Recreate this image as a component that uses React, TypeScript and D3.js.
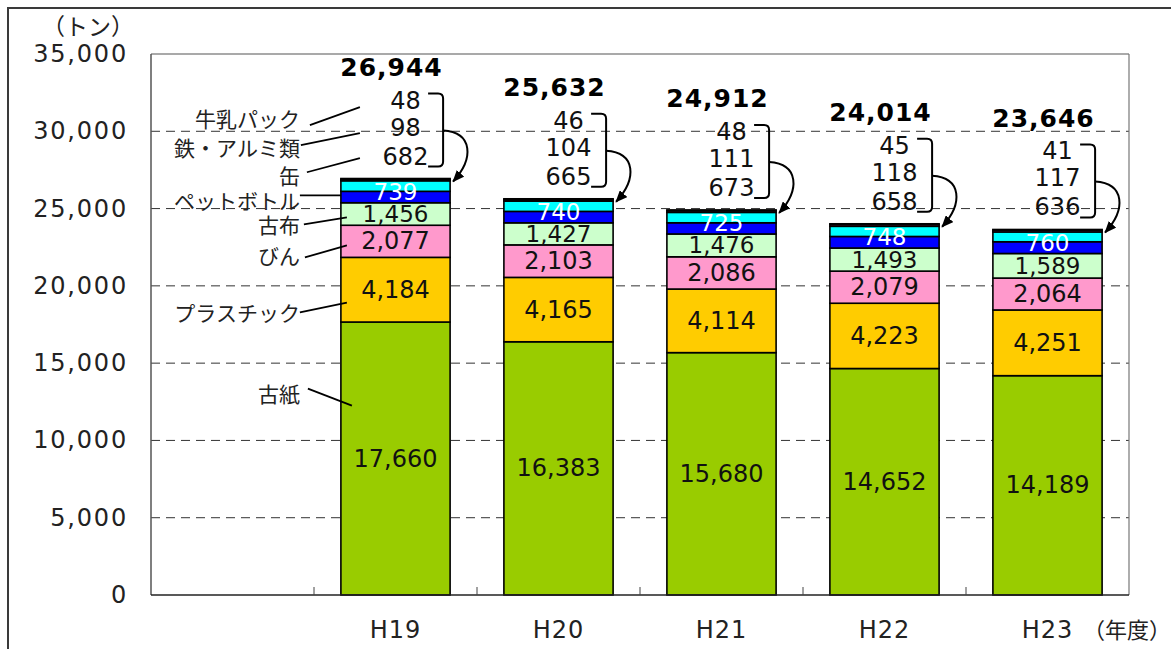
import React from 'react';
import * as d3 from 'd3';

// ---- data ----
const categories = ['', 'H19', 'H20', 'H21', 'H22', 'H23'];
const years = ['H19', 'H20', 'H21', 'H22', 'H23'];
const seriesNames = ['古紙', 'プラスチック', 'びん', '古布', 'ペットボトル', '缶', '鉄・アルミ類', '牛乳パック'];
const koshi = [17660, 16383, 15680, 14652, 14189];
const plastic = [4184, 4165, 4114, 4223, 4251];
const bin = [2077, 2103, 2086, 2079, 2064];
const kofu = [1456, 1427, 1476, 1493, 1589];
const pet = [739, 740, 725, 748, 760];
const kan = [682, 665, 673, 658, 636];
const tetsu = [98, 104, 111, 118, 117];
const milk = [48, 46, 48, 45, 41];
const totals = [26944, 25632, 24912, 24014, 23646];
const yTicks = [0, 5000, 10000, 15000, 20000, 25000, 30000, 35000];

const seriesValues = [koshi, plastic, bin, kofu, pet, kan, tetsu, milk];
const seriesColors = ['#99CC00', '#FFCC00', '#FF99CC', '#CCFFCC', '#0000FF', '#00FFFF', '#993366', '#FFFF99'];

// left-hand series labels: text centre value, leader line (dx from H19 bar left, value)
const leftLabels = [
  { s: 7, tv: 30850, x1: -31, v1: 30400, x2: 19, v2: 31560 },
  { s: 6, tv: 28970, x1: -40, v1: 29100, x2: 19, v2: 29880 },
  { s: 5, tv: 27160, x1: -34, v1: 27350, x2: 19, v2: 28260 },
  { s: 4, tv: 25550, x1: -41, v1: 25860, x2: 0, v2: 25860 },
  { s: 3, tv: 23980, x1: -37, v1: 23980, x2: 6, v2: 24430 },
  { s: 2, tv: 21970, x1: -36, v1: 21840, x2: 6, v2: 22620 },
  { s: 1, tv: 18340, x1: -41, v1: 18280, x2: 6, v2: 18920 },
  { s: 0, tv: 13090, x1: -33, v1: 13350, x2: 11, v2: 12250 },
];

const W = 1171;
const H = 649;
const plotL = 151;
const plotR = 1129;
const plotT = 54;
const plotB = 595;

const numFont = '"DejaVu Sans", sans-serif';
const jpFont = '"Noto Sans CJK JP", sans-serif';

export default function App() {
  const x = d3.scaleBand<string>().domain(categories).range([plotL, plotR]).paddingInner(0.33).paddingOuter(0.165);
  const y = d3.scaleLinear().domain([0, 35000]).range([plotB, plotT]);
  const bw = x.bandwidth();
  const step = x.step();
  const fmt = d3.format(',');

  const stackData = years.map((yr, i) => {
    const o: any = { year: yr };
    seriesValues.forEach((arr, k) => (o['s' + k] = arr[i]));
    return o;
  });
  const stack = d3.stack<any>().keys(seriesValues.map((_, k) => 's' + k));
  const layers = stack(stackData);

  const boundaries = categories.slice(1).map((c) => (x(c) as number) - (step - bw) / 2);

  const barLeft0 = x('H19') as number;

  return (
    <svg width={W} height={H} style={{ position: 'absolute', left: 0, top: 0, background: '#fff' }}>
      <defs>
        <marker id="ah" markerUnits="userSpaceOnUse" markerWidth={12} markerHeight={10} refX={11} refY={5} orient="auto">
          <path d="M0,0 L12,5 L0,10 z" fill="#000" />
        </marker>
      </defs>
      <rect x={8} y={8} width={1200} height={700} fill="#fff" stroke="#3a3a3a" strokeWidth={2} />

      {/* gridlines */}
      {yTicks.filter((t) => t > 0 && t < 35000).map((t) => (
        <line key={t} x1={plotL} x2={plotR} y1={y(t)} y2={y(t)} stroke="#333" strokeWidth={1} strokeDasharray="9,6" />
      ))}
      {/* plot border */}
      <line x1={plotL} x2={plotR} y1={plotT} y2={plotT} stroke="#555" strokeWidth={1.2} />
      <line x1={plotL} x2={plotL} y1={plotT} y2={plotB} stroke="#555" strokeWidth={1.5} />
      <line x1={plotR} x2={plotR} y1={plotT} y2={plotB} stroke="#777" strokeWidth={1.2} />

      {/* y tick labels */}
      {yTicks.map((t) => (
        <text key={t} x={128} y={y(t)} textAnchor="end" dominantBaseline="central" fontFamily={numFont} fontSize={24} letterSpacing={1.8} fill="#222">
          {fmt(t)}
        </text>
      ))}
      <text x={88} y={25} textAnchor="middle" dominantBaseline="central" fontFamily={jpFont} fontSize={23} fill="#222">（トン）</text>

      {/* bars */}
      {layers.map((layer, k) => (
        <g key={k}>
          {layer.map((d, i) => (
            <rect key={i} x={x(years[i])} y={y(d[1])} width={bw} height={y(d[0]) - y(d[1])} fill={seriesColors[k]} stroke="#000" strokeWidth={1.6} />
          ))}
        </g>
      ))}

      {/* x axis */}
      <line x1={plotL} x2={plotR} y1={plotB} y2={plotB} stroke="#222" strokeWidth={1.5} />
      {boundaries.map((bx, i) => (
        <line key={i} x1={bx} x2={bx} y1={plotB} y2={plotB - 8} stroke="#444" strokeWidth={1} />
      ))}
      {years.map((yr) => (
        <text key={yr} x={(x(yr) as number) + bw / 2} y={630} textAnchor="middle" dominantBaseline="central" fontFamily={numFont} fontSize={24} letterSpacing={1} fill="#222">
          {yr}
        </text>
      ))}
      <text x={1127} y={628} textAnchor="middle" dominantBaseline="central" fontFamily={jpFont} fontSize={22} fill="#222">（年度）</text>

      {/* segment labels */}
      {layers.slice(0, 5).map((layer, k) => (
        <g key={'l' + k}>
          {layer.map((d, i) => {
            const cy = (y(d[0]) + y(d[1])) / 2 + (k === 4 ? -5 : 0);
            return (
              <text key={i} x={(x(years[i]) as number) + bw / 2} y={cy} textAnchor="middle" dominantBaseline="central" fontFamily={numFont} fontSize={k >= 3 ? 23 : 24} fill={k === 4 ? '#fff' : '#111'}>
                {fmt(seriesValues[k][i])}
              </text>
            );
          })}
        </g>
      ))}

      {/* small-value blocks, brackets, arrows, totals */}
      {years.map((yr, i) => {
        const bl = x(yr) as number;
        const br = bl + bw;
        const cx = bl + bw / 2;
        const top = y(d3.sum(seriesValues, (a) => a[i]));
        const bx = br - 7;
        const bt = top - 85;
        const bb = top - 12;
        const mid = top - 48;
        return (
          <g key={'b' + yr}>
            <text x={cx + 10} y={top - 78} textAnchor="middle" dominantBaseline="central" fontFamily={numFont} fontSize={24} fill="#111">{milk[i]}</text>
            <text x={cx + 10} y={top - 51} textAnchor="middle" dominantBaseline="central" fontFamily={numFont} fontSize={24} fill="#111">{tetsu[i]}</text>
            <text x={cx + 10} y={top - 22} textAnchor="middle" dominantBaseline="central" fontFamily={numFont} fontSize={24} fill="#111">{kan[i]}</text>
            <path d={`M${bx - 15},${bt} L${bx - 5},${bt} Q${bx},${bt} ${bx},${bt + 5} L${bx},${bb - 5} Q${bx},${bb} ${bx - 5},${bb} L${bx - 15},${bb}`} fill="none" stroke="#000" strokeWidth={2} />
            <path d={`M${bx},${mid} C${bx + 30},${mid + 2} ${br + 24},${top - 20} ${br + 3},${top + 3}`} fill="none" stroke="#000" strokeWidth={2} markerEnd="url(#ah)" />
            <text x={cx - 4} y={top - 111} textAnchor="middle" dominantBaseline="central" fontFamily={numFont} fontSize={25} fontWeight="bold" letterSpacing={1} fill="#000">{fmt(totals[i])}</text>
          </g>
        );
      })}

      {/* series labels on the left */}
      {leftLabels.map((l) => (
        <g key={'n' + l.s}>
          <text x={barLeft0 - 41} y={y(l.tv)} textAnchor="end" dominantBaseline="central" fontFamily={jpFont} fontSize={21} fill="#222">{seriesNames[l.s]}</text>
          <line x1={barLeft0 + l.x1} y1={y(l.v1)} x2={barLeft0 + l.x2} y2={y(l.v2)} stroke="#000" strokeWidth={1.8} />
        </g>
      ))}
    </svg>
  );
}
